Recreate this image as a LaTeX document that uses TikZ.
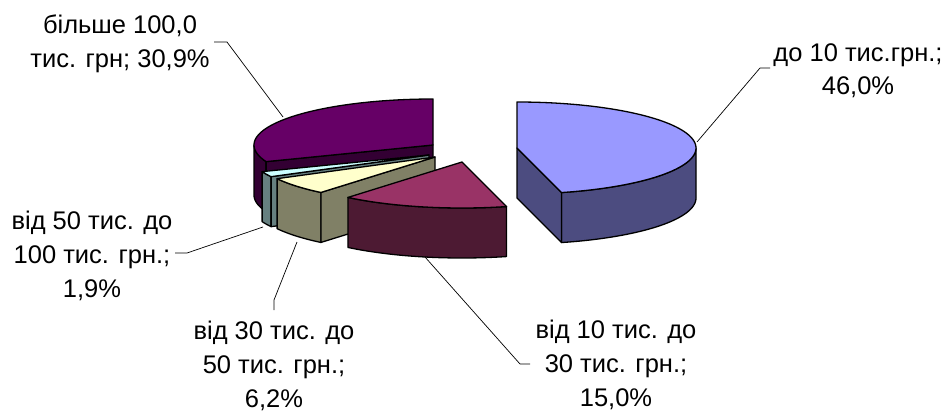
\documentclass[tikz,border=0pt]{standalone}
\usepackage{fontspec}
\setmainfont{Liberation Sans}
\definecolor{bluetop}{HTML}{9999FF}
\definecolor{blueside}{HTML}{4C4C80}
\definecolor{martop}{HTML}{993366}
\definecolor{marside}{HTML}{4D1A33}
\definecolor{khtop}{HTML}{FFFFCC}
\definecolor{khside}{HTML}{808066}
\definecolor{cytop}{HTML}{CCFFFF}
\definecolor{cyside}{HTML}{668080}
\definecolor{pptop}{HTML}{660066}
\definecolor{ppside}{HTML}{330033}
\begin{document}
\begin{tikzpicture}[x=1pt,y=-1pt,
  sliceline/.style={draw=black,line width=1.3pt,line join=round},
  leader/.style={draw=black,line width=0.7pt},
  lbl/.style={align=center,font=\fontsize{25.5}{33.6}\selectfont,inner sep=0pt,anchor=base}]
\useasboundingbox (0,0) rectangle (948,412);

% ---- purple slice (30.9%) ----
\coordinate (pc) at (433,145);
\coordinate (pcb) at (433,195);
\coordinate (pa) at ({433+179*sin(248.8)},{145-46*cos(248.8)});
\coordinate (pab) at ({433+179*sin(248.8)},{195-46*cos(248.8)});
\filldraw[sliceline,fill=ppside] plot[domain=248.8:270,samples=20] ({433+179*sin(\x)},{145-46*cos(\x)}) -- plot[domain=270:248.8,samples=20] ({433+179*sin(\x)},{195-46*cos(\x)}) -- cycle;
\filldraw[sliceline,fill=ppside] (pc) -- (pa) -- (pab) -- (pcb) -- cycle;
\filldraw[sliceline,fill=pptop] (pc) -- plot[domain=248.8:360,samples=60] ({433+179*sin(\x)},{145-46*cos(\x)}) -- cycle;

% ---- blue slice (46.0%) ----
\coordinate (bc) at (517,148);
\coordinate (bcb) at (517,198);
\coordinate (ba) at ({517+179*sin(165.6)},{148-46*cos(165.6)});
\coordinate (bab) at ({517+179*sin(165.6)},{198-46*cos(165.6)});
\filldraw[sliceline,fill=blueside] plot[domain=90:165.6,samples=40] ({517+179*sin(\x)},{148-46*cos(\x)}) -- plot[domain=165.6:90,samples=40] ({517+179*sin(\x)},{198-46*cos(\x)}) -- cycle;
\filldraw[sliceline,fill=blueside] (bc) -- (ba) -- (bab) -- (bcb) -- cycle;
\filldraw[sliceline,fill=bluetop] (bc) -- plot[domain=0:165.6,samples=80] ({517+179*sin(\x)},{148-46*cos(\x)}) -- cycle;

% ---- cyan slice (1.9%) ----
\coordinate (cc) at (429,155);
\coordinate (ccb) at (429,205);
\coordinate (ca) at ({429+179*sin(241.9)},{155-46*cos(241.9)});
\coordinate (cab) at ({429+179*sin(241.9)},{205-46*cos(241.9)});
\filldraw[sliceline,fill=cyside] plot[domain=241.9:248.8,samples=8] ({429+179*sin(\x)},{155-46*cos(\x)}) -- plot[domain=248.8:241.9,samples=8] ({429+179*sin(\x)},{205-46*cos(\x)}) -- cycle;
\filldraw[sliceline,fill=cyside] (cc) -- (ca) -- (cab) -- (ccb) -- cycle;
\filldraw[sliceline,fill=cytop] (cc) -- plot[domain=241.9:248.8,samples=8] ({429+179*sin(\x)},{155-46*cos(\x)}) -- cycle;

% ---- khaki slice (6.2%) ----
\coordinate (kc) at (435,157);
\coordinate (kcb) at (435,207);
\coordinate (ka) at ({435+179*sin(219.6)},{157-46*cos(219.6)});
\coordinate (kab) at ({435+179*sin(219.6)},{207-46*cos(219.6)});
\filldraw[sliceline,fill=khside] plot[domain=219.6:241.9,samples=20] ({435+179*sin(\x)},{157-46*cos(\x)}) -- plot[domain=241.9:219.6,samples=20] ({435+179*sin(\x)},{207-46*cos(\x)}) -- cycle;
\filldraw[sliceline,fill=khside] (kc) -- (ka) -- (kab) -- (kcb) -- cycle;
\filldraw[sliceline,fill=khtop] (kc) -- plot[domain=219.6:241.9,samples=20] ({435+179*sin(\x)},{157-46*cos(\x)}) -- cycle;

% ---- maroon slice (15.0%) ----
\coordinate (mc) at (462,162);
\filldraw[sliceline,fill=marside] plot[domain=165.6:219.6,samples=40] ({462+179*sin(\x)},{162-46*cos(\x)}) -- plot[domain=219.6:165.6,samples=40] ({462+179*sin(\x)},{212-46*cos(\x)}) -- cycle;
\filldraw[sliceline,fill=martop] (mc) -- plot[domain=165.6:219.6,samples=40] ({462+179*sin(\x)},{162-46*cos(\x)}) -- cycle;

% ---- labels (anchor = baseline of last line) ----
\node[lbl] (lp) at (120,67) {більше 100,0\\тис. грн; 30,9\%};
\node[lbl] (lb) at (858,95) {до 10 тис.грн.;\\46,0\%};
\node[lbl] (lm) at (616,406) {від 10 тис. до\\30 тис. грн.;\\15,0\%};
\node[lbl] (lk) at (274,407) {від 30 тис. до\\50 тис. грн.;\\6,2\%};
\node[lbl] (lc) at (92,297) {від 50 тис. до\\100 тис. грн.;\\1,9\%};

% ---- leaders ----
\coordinate (pl1) at (214,42); \coordinate (pl2) at (227,42); \coordinate (pl3) at (283,117);
\coordinate (bl1) at (770,68); \coordinate (bl2) at (760,68); \coordinate (bl3) at (697,142);
\coordinate (ml1) at (530,364); \coordinate (ml2) at (520,364); \coordinate (ml3) at (425,257);
\coordinate (kl1) at (274,310); \coordinate (kl2) at (274,300); \coordinate (kl3) at (297,242);
\coordinate (cl1) at (175,253); \coordinate (cl2) at (187,253); \coordinate (cl3) at (263,227);
\draw[leader] (pl1) -- (pl2) -- (pl3);
\draw[leader] (bl1) -- (bl2) -- (bl3);
\draw[leader] (ml1) -- (ml2) -- (ml3);
\draw[leader] (kl1) -- (kl2) -- (kl3);
\draw[leader] (cl1) -- (cl2) -- (cl3);
\end{tikzpicture}
\end{document}
